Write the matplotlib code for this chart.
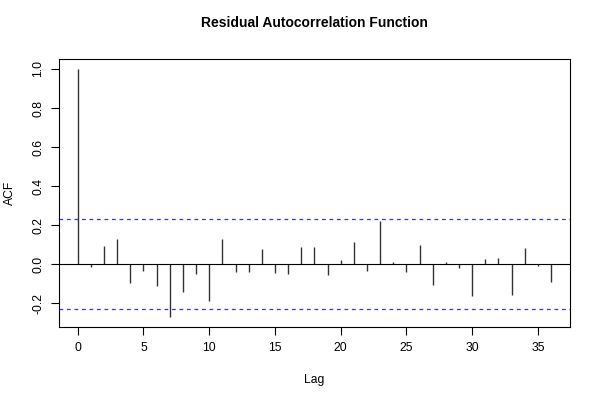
import numpy as np
import matplotlib
matplotlib.use('Agg')
import matplotlib.pyplot as plt

plt.rcParams['font.family'] = ['Liberation Sans', 'DejaVu Sans']

# residual acf
lags = np.arange(0, 37)
acf = [1.000, -0.012, 0.094, 0.128, -0.094, -0.032, -0.113, -0.270, -0.140, -0.051,
       -0.186, 0.128, -0.038, -0.038, 0.077, -0.044, -0.050, 0.091, 0.087, -0.055,
       0.021, 0.113, -0.032, 0.224, 0.010, -0.039, 0.097, -0.106, 0.014, -0.021,
       -0.162, 0.029, 0.031, -0.157, 0.082, -0.009, -0.092]
conf = 0.231
xticks = [0, 5, 10, 15, 20, 25, 30, 35]
yticks = [-0.2, 0.0, 0.2, 0.4, 0.6, 0.8, 1.0]

fig = plt.figure(figsize=(6, 4), dpi=100)
ax = fig.add_axes([0.098, 0.1825, 0.852, 0.67])

ax.vlines(lags, 0, acf, color='#333333', lw=1.0)
ax.axhline(0, color='black', lw=0.8)
ax.axhline(conf, color='#3333ff', lw=0.9, ls=(0, (3, 3)))
ax.axhline(-conf, color='#3333ff', lw=0.9, ls=(0, (3, 3)))

ax.set_xlim(-1.44, 37.44)
ax.set_ylim(-0.321, 1.051)
ax.set_xticks(xticks)
ax.set_yticks(yticks)
ax.set_yticklabels(['%.1f' % v for v in yticks], rotation=90, va='center')
ax.tick_params(labelsize=8.7, length=5.5, pad=5, direction='out')
for s in ax.spines.values():
    s.set_linewidth(0.8)

ax.set_xlabel('Lag', fontsize=8.7, labelpad=15)
ax.set_ylabel('ACF', fontsize=8.7, labelpad=12)
# title centred over the plot region, like R
fig.text(0.524, 0.942, 'Residual Autocorrelation Function', fontsize=10,
         fontweight='bold', ha='center', va='center')

plt.savefig('out.png')
